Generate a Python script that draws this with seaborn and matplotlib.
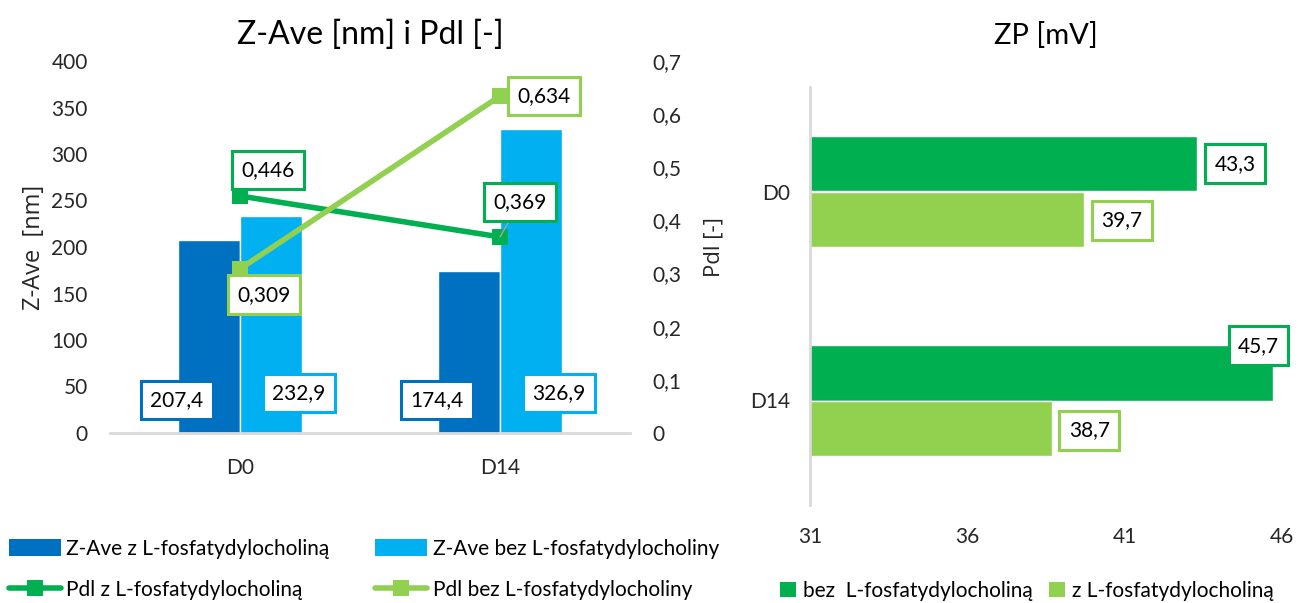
import matplotlib
matplotlib.use("Agg")
import matplotlib.pyplot as plt
from matplotlib.lines import Line2D
from matplotlib.patches import Patch
from matplotlib.ticker import FuncFormatter, FixedLocator
import seaborn as sns
import pandas as pd

# ---- data ----
days = ["D0", "D14"]
zave_z = [207.4, 174.4]      # Z-Ave z L-fosfatydylocholiną
zave_bez = [232.9, 326.9]    # Z-Ave bez L-fosfatydylocholiny
pdi_z = [0.446, 0.369]       # Pdl z L-fosfatydylocholiną
pdi_bez = [0.309, 0.634]     # Pdl bez L-fosfatydylocholiny
zp_bez = [43.3, 45.7]        # ZP bez L-fosfatydylocholiną
zp_z = [39.7, 38.7]          # ZP z L-fosfatydylocholiną

lbl_zave_z = "Z-Ave z L-fosfatydylocholiną"
lbl_zave_bez = "Z-Ave bez L-fosfatydylocholiny"
lbl_pdi_z = "Pdl z L-fosfatydylocholiną"
lbl_pdi_bez = "Pdl bez L-fosfatydylocholiny"
lbl_zp_bez = "bez  L-fosfatydylocholiną"
lbl_zp_z = "z L-fosfatydylocholiną"

C_DBLUE = "#0070C0"
C_LBLUE = "#00B0F0"
C_DGREEN = "#00B050"
C_LGREEN = "#92D050"
C_AXIS = "#D9D9D9"

sns.set_theme(style="white")
plt.rcParams["font.family"] = ["Lato", "DejaVu Sans"]
plt.rcParams["text.color"] = "black"

FS = 15

fig = plt.figure(figsize=(13.02, 6.03), dpi=100)
W, H = 1302, 603


def ax_rect(x0, y0, x1, y1):
    return [x0 / W, 1 - y1 / H, (x1 - x0) / W, (y1 - y0) / H]


def comma(v, nd):
    return f"{v:.{nd}f}".replace(".", ",")


def boxed(ax, text, xy, offset, color, leader=False):
    kw = {}
    if leader:
        kw["arrowprops"] = dict(arrowstyle="-", color="#A6A6A6", lw=1,
                                shrinkA=0, shrinkB=0)
    ax.annotate(text, xy=xy, xytext=offset, textcoords="offset pixels",
                ha="center", va="center", fontsize=FS, zorder=10,
                bbox=dict(boxstyle="square,pad=0.45", fc="white", ec=color, lw=2.2),
                **kw)


# ---- left chart: Z-Ave bars + PdI lines ----
ax = fig.add_axes(ax_rect(110, 61, 630, 433))
df_z = pd.DataFrame({
    "day": days * 2,
    "value": zave_z + zave_bez,
    "series": [lbl_zave_z] * 2 + [lbl_zave_bez] * 2,
})
sns.barplot(data=df_z, x="day", y="value", hue="series", ax=ax,
            palette=[C_DBLUE, C_LBLUE], width=0.477, saturation=1,
            legend=False, errorbar=None)
ax.set_xlim(-0.5, 1.5)
ax.set_ylim(0, 400)
ax.set_yticks(range(0, 401, 50))
ax.set_xlabel("")
ax.set_ylabel("Z-Ave  [nm]", fontsize=17, labelpad=4,
              family=["Open Sans", "DejaVu Sans"])
ax.tick_params(axis="both", length=0, labelsize=FS)
ax.tick_params(axis="y", pad=16)
ax.tick_params(axis="x", pad=18)
for s in ("left", "right", "top"):
    ax.spines[s].set_visible(False)
ax.spines["bottom"].set_color(C_AXIS)
ax.spines["bottom"].set_linewidth(2)
ax.set_title("Z-Ave [nm] i Pdl [-]", fontsize=23, pad=12)

# bar value labels
bar_offsets = {0: (-32, 33), 1: (28, 40)}
for si, cont in enumerate(ax.containers):
    for rect in cont:
        xc = rect.get_x() + rect.get_width() / 2
        val = rect.get_height()
        color = C_DBLUE if si == 0 else C_LBLUE
        boxed(ax, comma(val, 1), (xc, 0), bar_offsets[si], color)

ax2 = ax.twinx()
ax2.set_position(ax.get_position())
df_p = pd.DataFrame({
    "x": [0, 1, 0, 1],
    "value": pdi_z + pdi_bez,
    "series": [lbl_pdi_z] * 2 + [lbl_pdi_bez] * 2,
})
sns.lineplot(data=df_p, x="x", y="value", hue="series", ax=ax2,
             palette=[C_DGREEN, C_LGREEN], lw=4, marker="s", markersize=11.5,
             markeredgewidth=0, legend=False)
ax2.set_xlim(-0.5, 1.5)
ax2.set_ylim(0, 0.7)
ax2.yaxis.set_major_locator(FixedLocator([i / 10 for i in range(8)]))
ax2.yaxis.set_major_formatter(FuncFormatter(lambda v, p: "0" if abs(v) < 1e-9 else comma(v, 1)))
ax2.set_ylabel("Pdl [-]", fontsize=16, labelpad=16,
               family=["Open Sans", "DejaVu Sans"])
ax2.tick_params(axis="y", length=0, labelsize=FS, pad=16)
for s in ax2.spines.values():
    s.set_visible(False)

pdi_z_off = [(28, 26), (20, 35)]
pdi_bez_off = [(24, -26), (44, 0)]
for i, v in enumerate(pdi_z):
    boxed(ax2, comma(v, 3), (i, v), pdi_z_off[i], C_DGREEN, leader=(i == 1))
for i, v in enumerate(pdi_bez):
    boxed(ax2, comma(v, 3), (i, v), pdi_bez_off[i], C_LGREEN)

left_handles = [
    Patch(fc=C_DBLUE, ec="none"),
    Line2D([], [], color=C_DGREEN, lw=4, marker="s", markersize=11, markeredgewidth=0),
    Patch(fc=C_LBLUE, ec="none"),
    Line2D([], [], color=C_LGREEN, lw=4, marker="s", markersize=11, markeredgewidth=0),
]
left_labels = [lbl_zave_z, lbl_pdi_z, lbl_zave_bez, lbl_pdi_bez]
fig.legend(left_handles, left_labels, loc="upper left",
           bbox_to_anchor=(9 / W, 1 - 539 / H), ncol=2, frameon=False,
           fontsize=FS, handlelength=2.5, handleheight=0.85, handletextpad=0.25,
           columnspacing=2.2, labelspacing=1.0, borderaxespad=0, borderpad=0)

# ---- right chart: ZP horizontal bars ----
axr = fig.add_axes(ax_rect(810, 87, 1282, 505))
df_zp = pd.DataFrame({
    "day": days * 2,
    "value": zp_bez + zp_z,
    "series": [lbl_zp_bez] * 2 + [lbl_zp_z] * 2,
})
sns.barplot(data=df_zp, y="day", x="value", hue="series", ax=axr, orient="h",
            palette=[C_DGREEN, C_LGREEN], width=0.533, saturation=1,
            legend=False, errorbar=None)
axr.set_xlim(31, 46)
axr.set_ylim(1.5, -0.5)
axr.set_xticks([31, 36, 41, 46])
axr.set_xlabel("")
axr.set_ylabel("")
axr.tick_params(axis="both", length=0, labelsize=FS)
axr.tick_params(axis="x", pad=16)
axr.tick_params(axis="y", pad=14)
for s in ("bottom", "right", "top"):
    axr.spines[s].set_visible(False)
axr.spines["left"].set_color(C_AXIS)
axr.spines["left"].set_linewidth(2)
axr.set_title("ZP [mV]", fontsize=21, pad=31)

zp_offsets = {0: [(38, 0), (-14, 27)], 1: [(38, -1), (37, -2)]}
for si, cont in enumerate(axr.containers):
    for i, rect in enumerate(cont):
        yc = rect.get_y() + rect.get_height() / 2
        val = rect.get_width()
        color = C_DGREEN if si == 0 else C_LGREEN
        boxed(axr, comma(val, 1), (val, yc), zp_offsets[si][i], color)

right_handles = [Patch(fc=C_DGREEN, ec="none"), Patch(fc=C_LGREEN, ec="none")]
fig.legend(right_handles, [lbl_zp_bez, lbl_zp_z], loc="center left",
           bbox_to_anchor=(780 / W, 1 - 591 / H), ncol=2, frameon=False,
           fontsize=FS, handlelength=0.75, handleheight=0.75, handletextpad=0.35,
           columnspacing=0.8, borderaxespad=0, borderpad=0)

fig.savefig("out.png", dpi=100)
